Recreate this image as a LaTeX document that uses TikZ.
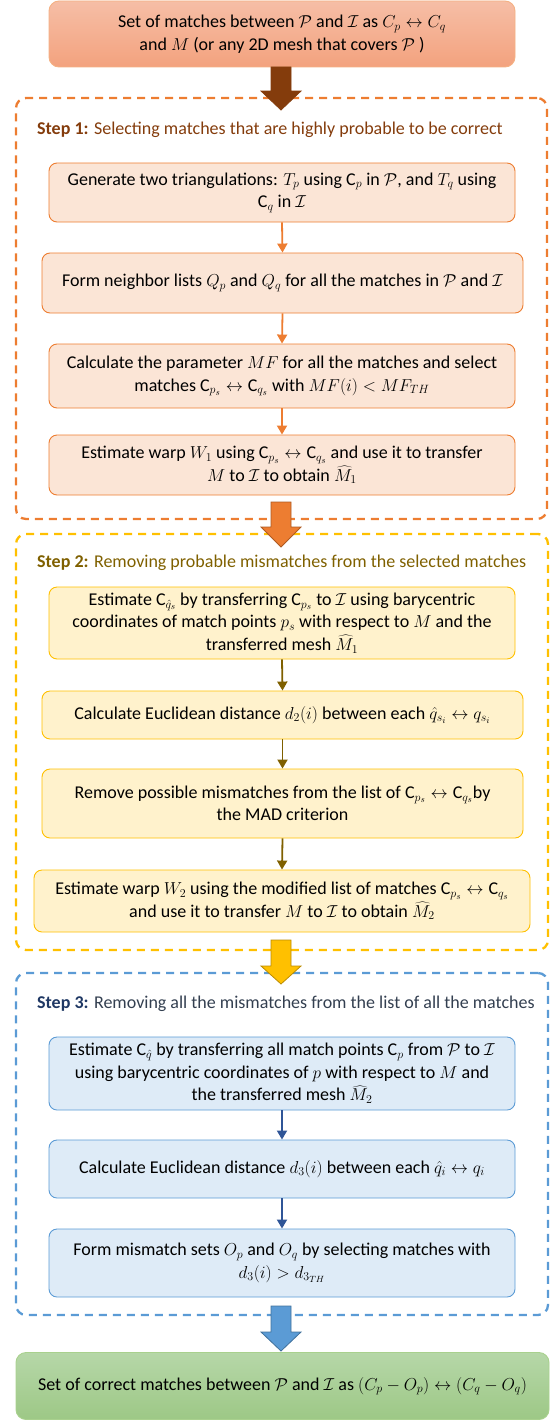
\documentclass[tikz,border=0pt]{standalone}
\usepackage{fontspec}
\setmainfont{Carlito}
\usetikzlibrary{arrows.meta,calc}
\definecolor{topA}{HTML}{F6BEA6}
\definecolor{topB}{HTML}{F3A27E}
\definecolor{topLine}{HTML}{F4B183}
\definecolor{brownA}{HTML}{843C0C}
\definecolor{oneLine}{HTML}{ED7D31}
\definecolor{oneFill}{HTML}{FBE5D6}
\definecolor{oneText}{HTML}{843C0C}
\definecolor{oneArrowLine}{HTML}{AE5A21}
\definecolor{twoLine}{HTML}{FFC000}
\definecolor{twoFill}{HTML}{FFF2CC}
\definecolor{twoText}{HTML}{7F6000}
\definecolor{twoArrowLine}{HTML}{BC8C00}
\definecolor{threeLine}{HTML}{5B9BD5}
\definecolor{threeFill}{HTML}{DEEBF7}
\definecolor{threeText}{HTML}{1F3864}
\definecolor{threeRest}{HTML}{333F50}
\definecolor{threeArrow}{HTML}{2F5597}
\definecolor{threeArrowLine}{HTML}{41719C}
\definecolor{greenA}{HTML}{B6D7A8}
\definecolor{greenB}{HTML}{9DC886}
\definecolor{greenLine}{HTML}{A9D18E}
\newcommand\blockarrow[6]{%
  \filldraw[fill=#5, draw=#6, line width=0.8pt, line join=miter]
    (#1-10,#2) -- (#1+10,#2) -- (#1+10,#3) -- (#1+20,#3) -- (#1,#4)
    -- (#1-20,#3) -- (#1-10,#3) -- cycle;}
\begin{document}
\begin{tikzpicture}[x=1pt,y=-1pt,
  box/.style={rectangle, rounded corners=8pt, align=center, inner sep=2pt,
    line width=0.9pt, font=\fontsize{18}{22.5}\selectfont, text=black},
  onebox/.style={box, fill=oneFill, draw=oneLine},
  twobox/.style={box, fill=twoFill, draw=twoLine},
  threebox/.style={box, fill=threeFill, draw=threeLine},
  frame/.style={rectangle, rounded corners=10pt, line width=2.3pt,
    dash pattern=on 8pt off 6pt, inner sep=0pt},
  steplabel/.style={anchor=west, inner sep=0pt, font=\fontsize{18}{20}\selectfont},
  flow/.style={line width=1.8pt, -{Triangle[length=9pt,width=10pt]}},
]
\useasboundingbox (0,0) rectangle (551,1421);

% top box
\node[box, top color=topA, bottom color=topB, draw=topLine, rounded corners=10pt,
  minimum width=466pt, minimum height=66pt] (top) at (282,34)
  {Set of matches between $\mathcal{P}$ and $\mathcal{I}$ as $C_p \leftrightarrow C_q$\\
   and $M$ (or any 2D mesh that covers $\mathcal{P}$ )};

% step frames
\node[frame, draw=oneLine, minimum width=531pt, minimum height=421pt] (f1) at (281.5,308.5) {};
\node[frame, draw=twoLine, minimum width=532pt, minimum height=416pt] (f2) at (282,742) {};
\node[frame, draw=threeLine, minimum width=532pt, minimum height=342pt] (f3) at (282,1144) {};

% step labels
\node[steplabel, text=oneText] (l1) at (37,130) {\textbf{Step 1:} Selecting matches that are highly probable to be correct};
\node[steplabel, text=twoText] (l2) at (37,563) {\textbf{Step 2:} Removing probable mismatches from the selected matches};
\node[steplabel, text=threeRest] (l3) at (37,1004) {\textcolor{threeText}{\textbf{Step 3:}} Removing all the mismatches from the list of all the matches};

% step 1 boxes
\node[onebox, minimum width=466pt, minimum height=59pt] (b1) at (282,192.5)
  {Generate two triangulations: $T_p$ using C$_p$ in $\mathcal{P}$, and $T_q$ using\\
   C$_q$ in $\mathcal{I}$};
\node[onebox, minimum width=481pt, minimum height=60pt] (b2) at (282.5,283)
  {Form neighbor lists $Q_p$ and $Q_q$ for all the matches in $\mathcal{P}$ and $\mathcal{I}$};
\node[onebox, minimum width=466pt, minimum height=64pt] (b3) at (282,376)
  {Calculate the parameter $MF$ for all the matches and select\\
   matches C$_{p_s} \leftrightarrow{}$C$_{q_s}$ with $MF(i) < MF_{TH}$};
\node[onebox, minimum width=466pt, minimum height=60pt] (b4) at (282,465)
  {Estimate warp $W_1$ using C$_{p_s} \leftrightarrow{}$C$_{q_s}$ and use it to transfer\\
   $M$ to $\mathcal{I}$ to obtain $\widehat{M}_1$};

% step 2 boxes
\node[twobox, minimum width=466pt, minimum height=72pt] (b5) at (282,623)
  {Estimate C$_{\hat{q}_s}$ by transferring C$_{p_s}$ to $\mathcal{I}$ using barycentric\\
   coordinates of match points $p_s$ with respect to $M$ and the\\
   transferred mesh $\widehat{M}_1$};
\node[twobox, minimum width=481pt, minimum height=48pt] (b6) at (282.5,715)
  {Calculate Euclidean distance $d_2(i)$ between each $\hat{q}_{s_i} \leftrightarrow q_{s_i}$};
\node[twobox, minimum width=481pt, minimum height=69pt] (b7) at (282.5,803.5)
  {Remove possible mismatches from the list of C$_{p_s} \leftrightarrow{}$C$_{q_s}$by\\
   the MAD criterion};
\node[twobox, minimum width=496pt, minimum height=62pt] (b8) at (282,901)
  {Estimate warp $W_2$ using the modified list of matches C$_{p_s} \leftrightarrow{}$C$_{q_s}$\\
   and use it to transfer $M$ to $\mathcal{I}$ to obtain $\widehat{M}_2$};

% step 3 boxes
\node[threebox, minimum width=466pt, minimum height=73pt] (b9) at (282,1073.5)
  {Estimate C$_{\hat{q}}$ by transferring all match points C$_p$ from $\mathcal{P}$ to $\mathcal{I}$\\
   using barycentric coordinates of $p$ with respect to $M$ and\\
   the transferred mesh $\widehat{M}_2$};
\node[threebox, minimum width=466pt, minimum height=58pt] (b10) at (282,1169)
  {Calculate Euclidean distance $d_3(i)$ between each $\hat{q}_i \leftrightarrow q_i$};
\node[threebox, minimum width=466pt, minimum height=68pt] (b11) at (282,1263)
  {Form mismatch sets $O_p$ and $O_q$ by selecting matches with\\
   $d_3(i) > d_{3_{TH}}$};

% result box
\node[box, top color=greenA, bottom color=greenB, draw=greenLine, rounded corners=10pt,
  minimum width=533pt, minimum height=67pt] (res) at (282.5,1386)
  {Set of correct matches between $\mathcal{P}$ and $\mathcal{I}$ as $(C_p - O_p) \leftrightarrow (C_q - O_q)$};

% small connectors
\draw[flow, oneLine] (b1.south) -- (b2.north);
\draw[flow, oneLine] (b2.south) -- (b3.north);
\draw[flow, oneLine] (b3.south) -- (b4.north);
\draw[flow, twoText] (b5.south) -- (b6.north);
\draw[flow, twoText] (b6.south) -- (b7.north);
\draw[flow, twoText] (b7.south) -- (b8.north);
\draw[flow, threeArrow] (b9.south) -- (b10.north);
\draw[flow, threeArrow] (b10.south) -- (b11.north);

% block arrows
\blockarrow{281}{67}{91}{110}{brownA}{brownA}
\blockarrow{281}{502}{527}{547}{oneLine}{oneArrowLine}
\blockarrow{281}{940}{966}{984}{twoLine}{twoArrowLine}
\blockarrow{281}{1306}{1332}{1351}{threeLine}{threeArrowLine}
\end{tikzpicture}
\end{document}
